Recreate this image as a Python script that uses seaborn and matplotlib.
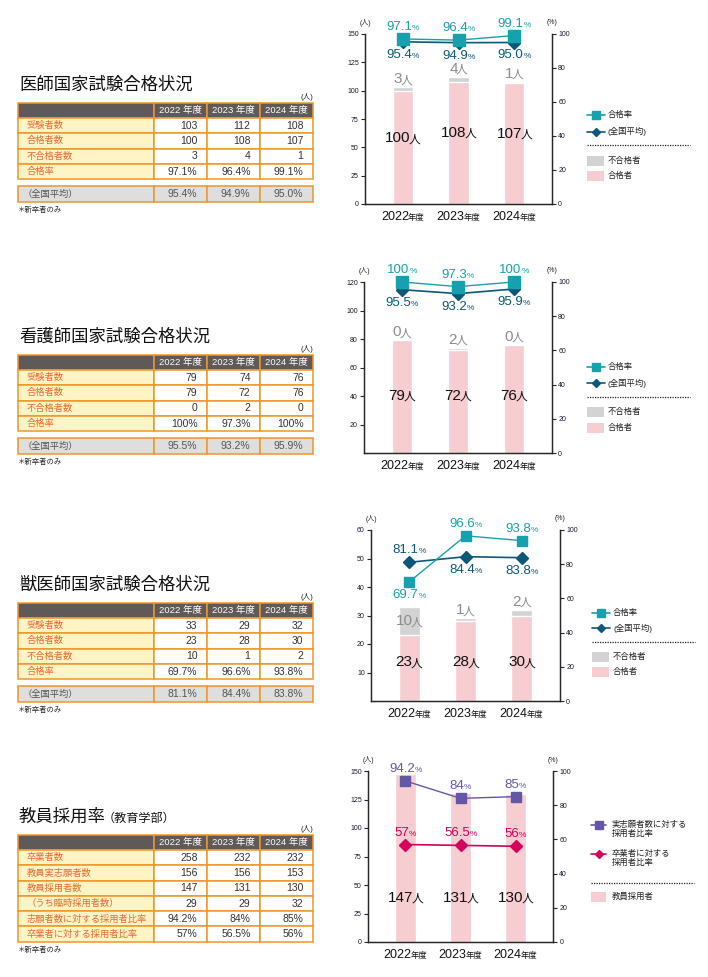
import matplotlib
matplotlib.use('Agg')
import matplotlib.pyplot as plt
import seaborn as sns
import pandas as pd
from matplotlib.patches import Rectangle
from matplotlib.offsetbox import TextArea, HPacker, AnnotationBbox

sns.set_style('white')
plt.rcParams['font.family'] = ['Liberation Sans', 'Noto Sans CJK JP', 'DejaVu Sans']
plt.rcParams['axes.linewidth'] = 0.9

# ---- data ----
years = ['2022', '2023', '2024']
year_heads = ['2022 年度', '2023 年度', '2024 年度']
exam_rows = ['受験者数', '合格者数', '不合格者数', '合格率']

med_exam = [103, 112, 108]
med_pass = [100, 108, 107]
med_fail = [3, 4, 1]
med_rate = ['97.1', '96.4', '99.1']
med_natl = ['95.4', '94.9', '95.0']

nur_exam = [79, 74, 76]
nur_pass = [79, 72, 76]
nur_fail = [0, 2, 0]
nur_rate = ['100', '97.3', '100']
nur_natl = ['95.5', '93.2', '95.9']

vet_exam = [33, 29, 32]
vet_pass = [23, 28, 30]
vet_fail = [10, 1, 2]
vet_rate = ['69.7', '96.6', '93.8']
vet_natl = ['81.1', '84.4', '83.8']

edu_rows = ['卒業者数', '教員実志願者数', '教員採用者数', '（うち臨時採用者数）',
            '志願者数に対する採用者比率', '卒業者に対する採用者比率']
edu_grad = [258, 232, 232]
edu_appl = [156, 156, 153]
edu_hired = [147, 131, 130]
edu_temp = [29, 29, 32]
edu_ratio_appl = ['94.2', '84', '85']
edu_ratio_grad = ['57', '56.5', '56']

# ---- colours ----
teal = '#17a1ae'
navy = '#0d5878'
purple = '#6656a8'
crimson = '#d5005b'
pink = '#f6cdd0'
gray = '#d3d3d3'
header_bg = '#5f5957'
label_bg = '#fff4c6'
border = '#f0962a'
label_txt = '#ea6a32'
avg_bg = '#dedede'

W, H = 708, 977
fig = plt.figure(figsize=(W / 100, H / 100), dpi=100)
bg = fig.add_axes([0, 0, 1, 1])
bg.set_xlim(0, W)
bg.set_ylim(H, 0)
bg.axis('off')


def px_axes(x0, y0, x1, y1):
    return fig.add_axes([x0 / W, 1 - y1 / H, (x1 - x0) / W, (y1 - y0) / H])


def combo(ax, x, y, big, small, bsize, ssize, color, xycoords='data', dy=0, va=0.5, sep=-1.2):
    pack = HPacker(children=[TextArea(big, textprops=dict(size=bsize, color=color)),
                             TextArea(small, textprops=dict(size=ssize, color=color))],
                   align='baseline', pad=0, sep=sep)
    ab = AnnotationBbox(pack, (x, y), xycoords=xycoords, xybox=(0, dy),
                        boxcoords='offset pixels', frameon=False, box_alignment=(0.5, va),
                        annotation_clip=False, pad=0)
    ax.add_artist(ab)


def draw_table(title, top, labels, rows, avg=None, sub=None):
    xs = [18, 154, 207, 260, 313]
    hh, rh = 15, 15.3
    bg.text(19, top - 18, title, size=12.5, va='center', color='#111')
    if sub:
        bg.text(103, top - 16, sub, size=8.7, va='center', color='#111')
    bg.text(313, top - 6, '(人)', size=5.5, ha='right', va='center', color='#222')
    for j in range(4):
        bg.add_patch(Rectangle((xs[j], top), xs[j + 1] - xs[j], hh, fc=header_bg, ec=border, lw=1.1))
    for j, h in enumerate(year_heads):
        bg.text((xs[j + 1] + xs[j + 2]) / 2, top + hh / 2, h, color='white', size=6.8,
                ha='center', va='center')
    y = top + hh
    for lab, vals in zip(labels, rows):
        bg.add_patch(Rectangle((xs[0], y), xs[1] - xs[0], rh, fc=label_bg, ec=border, lw=1.1))
        bg.text(xs[0] + 8.5, y + rh / 2, lab, color=label_txt, size=6.7, va='center')
        for j, v in enumerate(vals):
            bg.add_patch(Rectangle((xs[j + 1], y), xs[j + 2] - xs[j + 1], rh, fc='white',
                                   ec=border, lw=1.1))
            bg.text(xs[j + 2] - 9.5, y + rh / 2, v, size=7.5, ha='right', va='center', color='#333')
        y += rh
    if avg:
        y += 7
        bg.add_patch(Rectangle((xs[0], y), xs[1] - xs[0], 16, fc=avg_bg, ec=border, lw=1.1))
        bg.text(xs[0] + 5, y + 8, '（全国平均）', color='#555', size=6.7, va='center')
        for j, v in enumerate(avg):
            bg.add_patch(Rectangle((xs[j + 1], y), xs[j + 2] - xs[j + 1], 16, fc=avg_bg,
                                   ec=border, lw=1.1))
            bg.text(xs[j + 2] - 9.5, y + 8, v + '%', size=7.5, ha='right', va='center', color='#555')
        y += 16
    bg.text(18, y + 8.5, '＊新卒者のみ', size=5.3, va='center', color='#222')


def draw_chart(box, passed, failed, s1, s2, c1, c2, ymax, yticks, place1, place2,
               count_y=None, count_frac=None, ms_sq=8, ms_d=6):
    ax = px_axes(*box)
    ax.set_facecolor('none')
    df = pd.DataFrame({'year': years, 'passed': passed})
    if failed is not None:
        df['total'] = [p + f for p, f in zip(passed, failed)]
        sns.barplot(data=df, x='year', y='total', color=gray, width=0.37, saturation=1, ax=ax)
    sns.barplot(data=df, x='year', y='passed', color=pink, width=0.37, saturation=1, ax=ax)
    ax.set_xlim(-0.68, 2.68)
    ax.set_ylim(0, ymax)
    ax.set_yticks(yticks)
    ax.set_xlabel('')
    ax.set_ylabel('')
    ax.spines['top'].set_visible(False)
    ax.tick_params(axis='x', length=0, labelbottom=False)
    ax.tick_params(axis='y', length=3, width=0.8, labelsize=5, pad=1.5, labelcolor='#1a1a30')

    ax2 = ax.twinx()
    ax2.set_ylim(0, 100)
    ax2.set_yticks(range(0, 101, 20))
    ax2.spines['top'].set_visible(False)
    ax2.tick_params(axis='y', length=3, width=0.8, labelsize=5, pad=1.5, labelcolor='#1a1a30')
    xs = range(len(years))
    v1 = [float(v) for v in s1]
    v2 = [float(v) for v in s2]
    ax2.plot(xs, v2, color=c2, lw=1.2, marker='D', ms=ms_d, clip_on=False, zorder=3)
    ax2.plot(xs, v1, color=c1, lw=1.0, marker='s', ms=ms_sq, clip_on=False, zorder=4)

    for i in xs:
        combo(ax2, i, v1[i], s1[i], '%', 9.5, 6, c1, dy=12 if place1[i] == 'a' else -13, sep=0)
        combo(ax2, i, v2[i], s2[i], '%', 9.5, 6, c2, dy=12 if place2[i] == 'a' else -13, sep=0)
        cy = count_y if count_y is not None else passed[i] * count_frac
        combo(ax, i, cy, str(passed[i]), '人', 11, 8.5, '#111')
        if failed is not None:
            if failed[i] >= 5:
                combo(ax, i, passed[i] + failed[i] / 2, str(failed[i]), '人', 11, 8.5, '#8c8c8c')
            else:
                combo(ax, i, passed[i] + failed[i], str(failed[i]), '人', 11, 8.5, '#8c8c8c',
                      va=0, dy=1)
        combo(ax, i, 0, years[i], '年度', 9, 6, '#111', xycoords=('data', 'axes fraction'),
              dy=-13, sep=-0.5)
    bg.text(box[0], box[1] - 11, '(人)', size=5, ha='center', va='center', color='#222')
    bg.text(box[2], box[1] - 11, '(%)', size=5, ha='center', va='center', color='#222')


def legend_exam(x0, ys, dot_y, py):
    bg.plot([x0, x0 + 18], [ys[0], ys[0]], color=teal, lw=1.2)
    bg.plot([x0 + 9], [ys[0]], marker='s', ms=5.5, color=teal)
    bg.text(x0 + 21, ys[0], '合格率', size=6, va='center', color='#222')
    bg.plot([x0, x0 + 18], [ys[1], ys[1]], color=navy, lw=1.2)
    bg.plot([x0 + 9], [ys[1]], marker='D', ms=4.5, color=navy)
    bg.text(x0 + 21, ys[1], '(全国平均)', size=6, va='center', color='#222')
    bg.plot([x0, x0 + 103], [dot_y, dot_y], color='#222', lw=0.9, ls=(0, (1, 1)))
    bg.add_patch(Rectangle((x0, py[0] - 5), 17, 10, fc=gray, ec='none'))
    bg.text(x0 + 21, py[0], '不合格者', size=6, va='center', color='#222')
    bg.add_patch(Rectangle((x0, py[1] - 5), 17, 10, fc=pink, ec='none'))
    bg.text(x0 + 21, py[1], '合格者', size=6, va='center', color='#222')


# ---- tables ----
draw_table('医師国家試験合格状況', 103, exam_rows,
           [[str(v) for v in med_exam], [str(v) for v in med_pass],
            [str(v) for v in med_fail], [v + '%' for v in med_rate]], avg=med_natl)
draw_table('看護師国家試験合格状況', 355, exam_rows,
           [[str(v) for v in nur_exam], [str(v) for v in nur_pass],
            [str(v) for v in nur_fail], [v + '%' for v in nur_rate]], avg=nur_natl)
draw_table('獣医師国家試験合格状況', 603, exam_rows,
           [[str(v) for v in vet_exam], [str(v) for v in vet_pass],
            [str(v) for v in vet_fail], [v + '%' for v in vet_rate]], avg=vet_natl)
draw_table('教員採用率', 835, edu_rows,
           [[str(v) for v in edu_grad], [str(v) for v in edu_appl],
            [str(v) for v in edu_hired], [str(v) for v in edu_temp],
            [v + '%' for v in edu_ratio_appl], [v + '%' for v in edu_ratio_grad]],
           sub='（教育学部）')

# ---- charts ----
draw_chart((365, 34, 552, 204), med_pass, med_fail, med_rate, med_natl, teal, navy,
           150, range(0, 151, 25), 'aaa', 'bbb', count_frac=0.58, ms_sq=8.5)
draw_chart((364, 282, 552, 453), nur_pass, nur_fail, nur_rate, nur_natl, teal, navy,
           120, range(20, 121, 20), 'aaa', 'bbb', count_y=40)
draw_chart((371, 530, 560, 701), vet_pass, vet_fail, vet_rate, vet_natl, teal, navy,
           60, range(10, 61, 10), 'baa', 'abb', count_y=13.6, ms_sq=7.5)
draw_chart((368, 771, 553, 942), edu_hired, None, edu_ratio_appl, edu_ratio_grad, purple, crimson,
           150, range(0, 151, 25), 'aaa', 'aaa', count_y=38.6, ms_sq=7.5)

# ---- legends ----
legend_exam(587, [115, 131.5], 145, [160.5, 176])
legend_exam(587, [367, 383], 397, [412, 428])
legend_exam(592, [613, 628], 642, [657, 672])

bg.plot([591, 606], [825, 825], color=purple, lw=1.2)
bg.plot([598.5], [825], marker='s', ms=5.5, color=purple)
bg.text(612, 829.5, '実志願者数に対する\n採用者比率', size=6, va='center', linespacing=1.1, color='#222')
bg.plot([591, 606], [854, 854], color=crimson, lw=1.2)
bg.plot([598.5], [854], marker='D', ms=4.5, color=crimson)
bg.text(612, 858.5, '卒業者に対する\n採用者比率', size=6, va='center', linespacing=1.1, color='#222')
bg.plot([591, 694], [882.5, 882.5], color='#222', lw=0.9, ls=(0, (1, 1)))
bg.add_patch(Rectangle((591, 892), 15, 10, fc=pink, ec='none'))
bg.text(612, 897, '教員採用者', size=6, va='center', color='#222')

fig.savefig('out.png', dpi=100)
